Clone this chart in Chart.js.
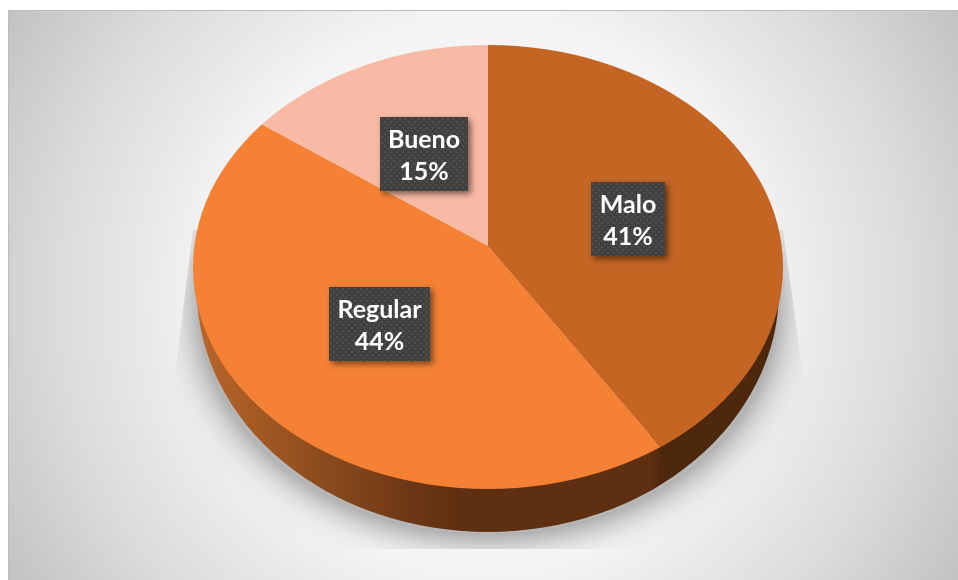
<!DOCTYPE html>
<html>
<head>
<meta charset="utf-8">
<style>
  html, body { margin: 0; padding: 0; background: #fff; }
  canvas { display: block; }
</style>
<script src="https://cdn.jsdelivr.net/npm/chart.js@4"></script>
</head>
<body>
<canvas id="pieChart" width="958" height="580"></canvas>
<script>
const categories = ['Malo', 'Regular', 'Bueno'];
const percentages = [41, 44, 15];
const sliceColors = ['#c46524', '#f48134', '#f9baa5'];

// label boxes on the pie: [left, top, right, bottom]
const labelBoxes = [
    [591, 182, 665, 256],
    [329, 287, 430, 361],
    [380, 117, 468, 191]
];

// the slices meet above the centre of the top face, which gives the tilted look
const apex = { x: 488, y: 246 };
const squash = 0.74;
const topFace = { x: 488, y: 267, rx: 295, ry: 222 };
const bottomFace = { x: 488, y: 290, rx: 291, ry: 242 };

function ellipsePath(ctx, e) {
    ctx.beginPath();
    ctx.ellipse(e.x, e.y, e.rx, e.ry, 0, 0, Math.PI * 2);
}

// x where a slice edge leaves the top face, going out from the apex
function edgeX(angle) {
    const dx = Math.cos(angle);
    const dy = Math.sin(angle) * squash;
    const a = dx * dx / (topFace.rx * topFace.rx) + dy * dy / (topFace.ry * topFace.ry);
    const oy = apex.y - topFace.y;
    const b = 2 * dy * oy / (topFace.ry * topFace.ry);
    const c = oy * oy / (topFace.ry * topFace.ry) - 1;
    const t = (-b + Math.sqrt(b * b - 4 * a * c)) / (2 * a);
    return apex.x + dx * t;
}

function drawBackdrop(ctx) {
    const bg = ctx.createRadialGradient(484, 295, 0, 484, 295, 565);
    bg.addColorStop(0, '#fbfbfb');
    bg.addColorStop(0.49, '#f4f4f4');
    bg.addColorStop(0.6, '#e9e9e9');
    bg.addColorStop(0.75, '#dcdcdc');
    bg.addColorStop(1, '#c0c0c0');
    ctx.fillStyle = bg;
    ctx.fillRect(8, 10, 950, 570);
    ctx.fillStyle = '#bcbcbc';
    ctx.fillRect(8, 10, 950, 1);
    ctx.fillRect(8, 10, 1, 570);

    // ground shadow, cut off by a flared outline
    ctx.save();
    ctx.beginPath();
    ctx.moveTo(193, 230);
    ctx.lineTo(173, 390);
    ctx.lineTo(173, 549);
    ctx.lineTo(805, 549);
    ctx.lineTo(805, 390);
    ctx.lineTo(783, 230);
    ctx.closePath();
    ctx.clip();
    ctx.shadowColor = 'rgba(105,105,105,1)';
    ctx.shadowBlur = 40;
    ctx.fillStyle = '#b6b6b6';
    ellipsePath(ctx, { x: 488, y: 306, rx: 288, ry: 228 });
    ctx.fill();
    ctx.restore();
}

function drawWall(ctx, chart) {
    const arcs = chart.getDatasetMeta(0).data;
    const splitX = edgeX(arcs[0].endAngle);

    const front = ctx.createLinearGradient(200, 0, splitX, 0);
    front.addColorStop(0, '#b8652a');
    front.addColorStop(0.22, '#93501f');
    front.addColorStop(0.45, '#6e3816');
    front.addColorStop(0.56, '#5e2f10');
    front.addColorStop(0.98, '#5e3011');
    front.addColorStop(1, '#522a0e');

    ctx.save();
    ellipsePath(ctx, bottomFace);
    ctx.clip();
    ctx.fillStyle = '#4e280c';
    ctx.fillRect(splitX - 10, 250, 810 - splitX, 300);
    // seam between the two wall pieces leans slightly inward
    ctx.beginPath();
    ctx.moveTo(190, 250);
    ctx.lineTo(splitX + 1, 440);
    ctx.lineTo(splitX - 3, 495);
    ctx.lineTo(splitX - 3, 550);
    ctx.lineTo(190, 550);
    ctx.closePath();
    ctx.fillStyle = front;
    ctx.fill();
    ctx.restore();
}

function dotPattern(ctx) {
    const tile = document.createElement('canvas');
    tile.width = 6;
    tile.height = 6;
    const t = tile.getContext('2d');
    t.fillStyle = '#404040';
    t.fillRect(0, 0, 6, 6);
    t.fillStyle = '#4f4f4f';
    t.fillRect(1, 1, 2, 2);
    t.fillRect(4, 4, 2, 2);
    return ctx.createPattern(tile, 'repeat');
}

function drawLabels(ctx) {
    const pattern = dotPattern(ctx);
    categories.forEach((name, i) => {
        const [l, t, r, b] = labelBoxes[i];
        ctx.save();
        ctx.shadowColor = 'rgba(0,0,0,0.5)';
        ctx.shadowBlur = 6;
        ctx.shadowOffsetX = 3;
        ctx.shadowOffsetY = 3;
        ctx.fillStyle = '#404040';
        ctx.fillRect(l, t, r - l, b - t);
        ctx.restore();

        ctx.save();
        ctx.translate(l, t);
        ctx.fillStyle = pattern;
        ctx.fillRect(0, 0, r - l, b - t);
        ctx.restore();

        ctx.fillStyle = '#ffffff';
        ctx.font = 'bold 25px Lato, "Open Sans", sans-serif';
        ctx.textAlign = 'center';
        ctx.textBaseline = 'middle';
        const mid = (l + r) / 2;
        ctx.fillText(name, mid, t + 22.5);
        ctx.fillText(percentages[i] + '%', mid, t + 55);
    });
}

const tiltedPie = {
    id: 'tiltedPie',
    beforeDraw(chart) {
        drawBackdrop(chart.ctx);
    },
    beforeDatasetsDraw(chart) {
        const ctx = chart.ctx;
        drawWall(ctx, chart);
        ctx.save();
        ellipsePath(ctx, topFace);
        ctx.clip();
        ctx.translate(apex.x, apex.y);
        ctx.scale(1, squash);
        ctx.translate(-apex.x, -apex.y);
    },
    afterDatasetsDraw(chart) {
        chart.ctx.restore();
    },
    afterDraw(chart) {
        drawLabels(chart.ctx);
    }
};

new Chart(document.getElementById('pieChart'), {
    type: 'pie',
    data: {
        labels: categories,
        datasets: [{
            data: percentages,
            backgroundColor: sliceColors,
            borderWidth: 0,
            clip: false
        }]
    },
    options: {
        responsive: false,
        animation: false,
        events: [],
        radius: 340,
        // puts the pie centre on the apex
        layout: { padding: { left: 18, right: 0, top: 0, bottom: 88 } },
        plugins: {
            legend: { display: false },
            tooltip: { enabled: false }
        }
    },
    plugins: [tiltedPie]
});
</script>
</body>
</html>
